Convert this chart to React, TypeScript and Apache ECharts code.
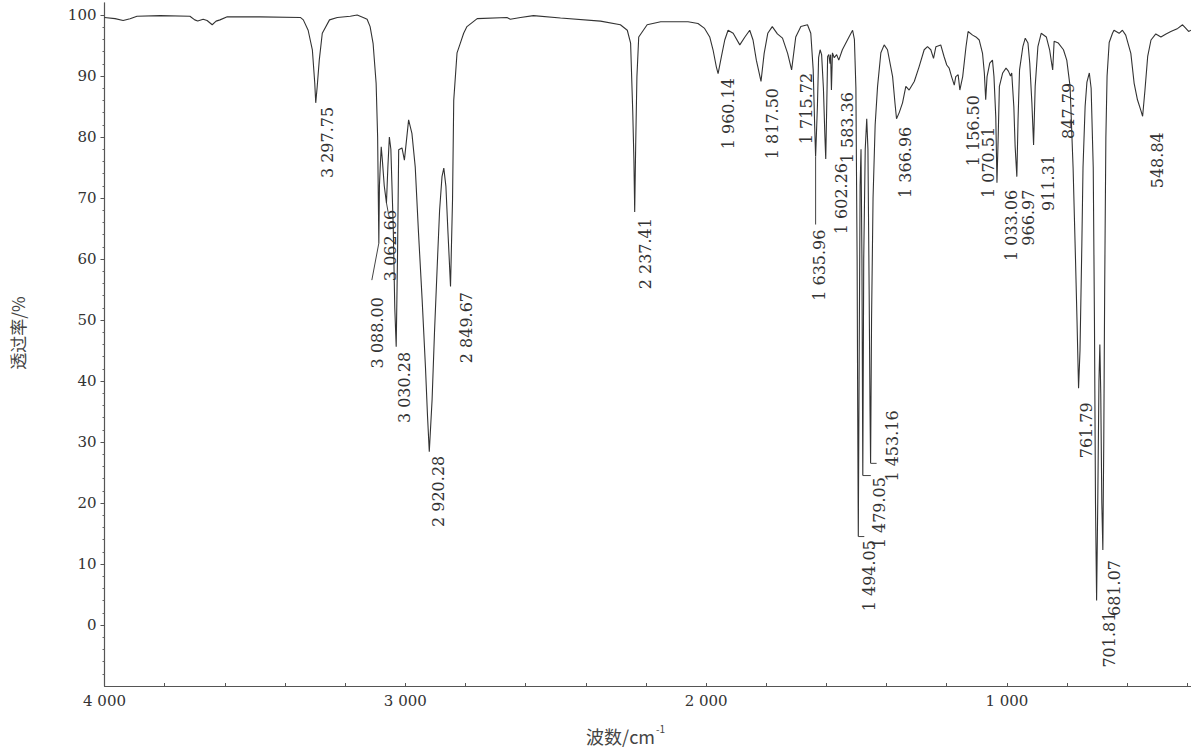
import React, { useEffect, useRef } from "react";
import * as echarts from "echarts";

// Spectrum (wavenumber in cm-1, transmittance in %)
const WAVENUMBER = [
  4000, 3965, 3938, 3915, 3892, 3815, 3716, 3700, 3690, 3672, 3659, 3642, 3629, 3616, 3592, 3483,
  3349, 3339, 3323, 3309, 3301, 3297.75, 3293, 3286, 3276, 3252, 3226, 3183, 3160, 3140, 3127, 3117,
  3107, 3097, 3092, 3088, 3086, 3083, 3080, 3076, 3070, 3062.66, 3058, 3053, 3048, 3040, 3035, 3030.28,
  3026, 3022, 3011, 3003, 2989, 2978, 2967, 2956, 2944, 2933, 2926, 2920.28, 2911, 2903, 2894, 2886,
  2878, 2872, 2865, 2858, 2849.67, 2843, 2839, 2828, 2817, 2806, 2795, 2761, 2662, 2651, 2617, 2574,
  2484, 2351, 2285, 2262, 2251, 2244, 2240, 2237.41, 2234, 2230, 2224, 2196, 2151, 2060, 2027, 2005,
  1988, 1977, 1966, 1960.14, 1949, 1938, 1927, 1910, 1888, 1871, 1855, 1844, 1833, 1817.5, 1807, 1795,
  1780, 1763, 1746, 1729, 1715.72, 1702, 1685, 1663, 1652, 1644, 1639, 1635.96, 1630, 1626, 1621, 1616,
  1610, 1605, 1602.26, 1599, 1596, 1592, 1588, 1586, 1583.36, 1580, 1574, 1566, 1559, 1547, 1525, 1513,
  1507, 1502, 1498, 1496, 1494.05, 1491, 1488, 1485, 1482, 1479.05, 1476, 1471, 1466, 1462, 1458, 1455,
  1453.16, 1450, 1445, 1438, 1430, 1419, 1408, 1397, 1380, 1372, 1366.96, 1358, 1347, 1336, 1325, 1308,
  1292, 1275, 1264, 1253, 1244, 1236, 1220, 1209, 1200, 1192, 1184, 1175, 1170, 1162, 1156.5, 1147,
  1136, 1129, 1114, 1103, 1092, 1081, 1075, 1070.51, 1066, 1057, 1048, 1043, 1037, 1033.06, 1029, 1025,
  1014, 1003, 995, 988, 984, 977, 972.6, 966.97, 963, 958, 947, 939, 930, 924, 917, 911.31,
  906, 897, 886, 869, 858, 851, 847.79, 843, 829, 812, 801, 790, 780, 772, 767, 761.79,
  757, 751, 747, 740, 734, 726, 720, 713, 709, 705.5, 701.81, 698, 694, 691, 688, 684.5,
  681.07, 678, 675, 671, 667, 660, 649, 644, 627, 616, 605, 588, 577, 566, 555, 548.84,
  541, 532, 521, 505, 488, 471, 455, 432, 416, 405, 396, 388,
];
const TRANSMITTANCE = [
  99.6, 99.4, 99.1, 99.4, 99.8, 99.9, 99.8, 99.2, 99.0, 99.3, 99.1, 98.4, 99.0, 99.2, 99.7, 99.7,
  99.6, 99.2, 97.5, 94.3, 88.8, 85.6, 88.2, 92.6, 97.0, 99.2, 99.6, 99.8, 100.0, 99.6, 99.3, 98.1,
  95.3, 88.8, 80, 62.6, 72, 75.5, 78.4, 76, 72, 69.2, 75, 80, 78, 65, 52, 45.6,
  60, 77.9, 78.2, 76.2, 82.8, 80.6, 75.1, 64.2, 53.3, 42.3, 34.1, 28.4, 36.9, 47.9, 58.7, 68,
  73.5, 74.9, 71.9, 64.2, 55.5, 69.7, 86, 93.8, 95.4, 97, 98.1, 99.4, 99.6, 99.3, 99.6, 99.9,
  99.5, 99.0, 98.4, 97.5, 95.4, 84.4, 76.2, 67.7, 79, 89.9, 96.4, 98.4, 98.9, 98.9, 98.6, 97.8,
  96.4, 94.3, 91.5, 90.4, 93.2, 95.9, 97.5, 97, 95.1, 96.4, 97.5, 95.9, 92.6, 89.1, 93.7, 97,
  98.1, 96.9, 96.2, 93.7, 91, 96.4, 98.1, 98.4, 97, 91, 81.7, 76.8, 85, 93, 94.3, 93.5,
  88, 80, 76.4, 85, 93.2, 93.5, 92, 93.5, 87.7, 93.8, 93, 93.5, 92.6, 94.3, 96.4, 97.5,
  96, 88, 60, 35, 14.5, 45, 72, 78, 60, 24.5, 60, 78, 83, 78, 55, 35,
  26.5, 50, 70, 82, 88.3, 93.8, 95.1, 94.3, 89.9, 85.5, 83, 84, 85.6, 88.3, 87.7, 89.1,
  91.5, 94.3, 94.8, 94.3, 92.9, 94.8, 95.1, 93.2, 91.8, 91.3, 89.9, 88.5, 89.9, 90.2, 87.7, 89.9,
  94.8, 97.3, 96.7, 96.4, 95.9, 93.7, 90.5, 86.1, 89.9, 92.1, 92.6, 89.9, 83.3, 72.5, 80, 88.3,
  90.5, 91.3, 90.8, 90, 90.5, 85, 78.4, 73.5, 82.8, 91, 94.8, 96.2, 95.4, 92.1, 85.6, 78.7,
  88.3, 94.8, 97, 96.4, 94.3, 92, 91, 95.7, 95.4, 94.3, 92.6, 88.3, 75, 60, 50, 38.8,
  45, 62, 75, 85, 89, 90.5, 88, 75, 50, 20, 4, 20, 40, 46, 38, 20,
  12.3, 30, 55, 80, 90, 95.5, 97, 97.5, 97, 97.5, 96.7, 93.7, 88.8, 86.1, 84.4, 83.4,
  87.7, 93.2, 95.9, 96.9, 96.4, 96.9, 97.3, 97.8, 98.4, 97.8, 97.3, 97.5,
];

// Peak annotations
const PEAK_WAVENUMBER = [
  3297.75, 3088.0, 3062.66, 3030.28, 2920.28, 2849.67, 2237.41, 1960.14, 1817.5, 1715.72,
  1635.96, 1602.26, 1583.36, 1494.05, 1479.05, 1453.16, 1366.96, 1156.5, 1070.51, 1033.06,
  966.97, 911.31, 847.79, 761.79, 701.81, 681.07, 548.84,
];
const PEAK_TRANSMITTANCE = [
  85.6, 62.6, 69.2, 45.6, 28.4, 55.5, 67.7, 90.4, 89.1, 91,
  76.8, 76.4, 87.7, 14.5, 24.5, 26.5, 83, 87.7, 86.1, 72.5,
  73.5, 78.7, 91, 38.8, 4, 12.3, 83.4,
];

// Axis ticks
const X_TICK_LABELS = [4000, 3000, 2000, 1000];
const X_TICKS = [400, 600, 800, 1000, 1200, 1400, 1600, 1800, 2000, 2200, 2400, 2600, 2800, 3000, 3200, 3400, 3600, 3800, 4000];
const Y_TICK_LABELS = [0, 10, 20, 30, 40, 50, 60, 70, 80, 90, 100];
const Y_MINOR_TICKS = [-8, -6, -4, -2, 2, 4, 6, 8, 12, 14, 16, 18, 22, 24, 26, 28, 32, 34, 36, 38, 42, 44, 46, 48, 52, 54, 56, 58, 62, 64, 66, 68, 72, 74, 76, 78, 82, 84, 86, 88, 92, 94, 96, 98];

// Label layout: [dx, dy] in px from the peak tip to the label's (centre, top)
const LABEL_OFFSETS: number[][] = [
  [11.5, 4], [-1, 54], [4, 7], [8, 5], [9, 4], [16, 5.5], [11, 6], [10.5, 4.5], [11.5, 6.5], [15, 3],
  [4, 73], [16, 4], [16, 2], [11.5, 3.5], [17, 1.5], [22, -53], [9, 8], [13.5, 5], [2.7, 27], [15, 7],
  [12, 13], [15, 10], [16, 13], [7.5, 14], [12.5, 11], [12, 10], [14.5, 16],
];
// leader lines: index -> [x1, y1, x2, y2] offsets from the peak tip
const LEADERS: Record<number, number[]> = {
  1: [0, 0, -7, 37],
  2: [0, 0, 2, 11],
  10: [0, 0, 0, 68],
  13: [0, 0, 6, 0],
  14: [0, 0, 8, 0],
  15: [0, 0, 6, 0],
};

const fmtPeak = (v: number) => {
  if (v >= 1000) {
    const th = Math.floor(v / 1000);
    const rest = (v - th * 1000).toFixed(2).padStart(6, "0");
    return `${th} ${rest}`;
  }
  return v.toFixed(2);
};
const fmtTick = (v: number) => {
  if (v >= 1000) return `${Math.floor(v / 1000)} ${String(v % 1000).padStart(3, "0")}`;
  return String(v);
};

const SERIF = "DejaVu Serif";
const CJK = "Noto Sans CJK SC";

export default function App() {
  const ref = useRef<HTMLDivElement>(null);
  useEffect(() => {
    const el = ref.current;
    if (!el) return;
    const chart = echarts.init(el, null, { renderer: "svg" });
    const data = WAVENUMBER.map((w, i) => [w, TRANSMITTANCE[i]]);
    chart.setOption({
      animation: false,
      backgroundColor: "#ffffff",
      grid: { left: 104.5, right: 0, top: 2.8, bottom: 65, containLabel: false },
      xAxis: {
        type: "value",
        inverse: true,
        min: 388,
        max: 4000,
        axisLine: { show: true, onZero: false, lineStyle: { color: "#555", width: 1.2 } },
        axisTick: { show: true, inside: true, length: 3, customValues: X_TICKS, lineStyle: { color: "#555" } },
        axisLabel: {
          customValues: X_TICK_LABELS,
          formatter: (v: number) => fmtTick(v),
          color: "#333",
          fontFamily: SERIF,
          fontSize: 15,
          margin: 7,
        },
        splitLine: { show: false },
      },
      yAxis: [
        {
          type: "value",
          min: -10,
          max: 102,
          interval: 10,
          axisLine: { show: true, onZero: false, lineStyle: { color: "#555", width: 1.2 } },
          axisTick: { show: true, length: 4, customValues: Y_TICK_LABELS, lineStyle: { color: "#555" } },
          axisLabel: {
            customValues: Y_TICK_LABELS,
            formatter: (v: number) => String(v),
            color: "#333",
            fontFamily: SERIF,
            fontSize: 15,
            margin: 8,
          },
          splitLine: { show: false },
        },
        {
          type: "value",
          min: -10,
          max: 102,
          position: "left",
          offset: 0,
          axisLine: { show: false },
          axisTick: { show: true, length: 2, customValues: Y_MINOR_TICKS, lineStyle: { color: "#666" } },
          axisLabel: { show: false },
          splitLine: { show: false },
        },
      ],
      series: [
        {
          type: "line",
          data,
          xAxisIndex: 0,
          yAxisIndex: 0,
          showSymbol: false,
          symbol: "none",
          silent: true,
          lineStyle: { color: "#333", width: 1.1 },
        },
      ],
    });

    const graphics: any[] = [];
    PEAK_WAVENUMBER.forEach((w, i) => {
      const p = chart.convertToPixel({ xAxisIndex: 0, yAxisIndex: 0 }, [w, PEAK_TRANSMITTANCE[i]]) as number[];
      const [dx, dy] = LABEL_OFFSETS[i];
      graphics.push({
        type: "text",
        x: p[0] + dx,
        y: p[1] + dy,
        rotation: Math.PI / 2,
        silent: true,
        style: {
          text: fmtPeak(w),
          fill: "#333",
          fontFamily: SERIF,
          fontSize: 16,
          align: "right",
          verticalAlign: "middle",
        },
      });
      const l = LEADERS[i];
      if (l) {
        graphics.push({
          type: "line",
          silent: true,
          shape: { x1: p[0] + l[0], y1: p[1] + l[1], x2: p[0] + l[2], y2: p[1] + l[3] },
          style: { stroke: "#444", lineWidth: 1 },
        });
      }
    });
    graphics.push({
      type: "text",
      x: 17,
      y: 333,
      rotation: Math.PI / 2,
      silent: true,
      style: { text: "透过率/%", fill: "#444", fontFamily: CJK, fontSize: 17, align: "center", verticalAlign: "middle" },
    });
    graphics.push({
      type: "text",
      x: 655,
      y: 736,
      silent: true,
      style: { text: "波数/cm", fill: "#444", fontFamily: CJK, fontSize: 18, align: "right", verticalAlign: "middle" },
    });
    graphics.push({
      type: "text",
      x: 656,
      y: 728,
      silent: true,
      style: { text: "-1", fill: "#444", fontFamily: CJK, fontSize: 10, align: "left", verticalAlign: "middle" },
    });
    chart.setOption({ graphic: graphics });
    return () => chart.dispose();
  }, []);
  return (
    <div
      ref={ref}
      style={{ position: "fixed", left: 0, top: 0, width: 1191, height: 751, background: "#fff" }}
    />
  );
}
